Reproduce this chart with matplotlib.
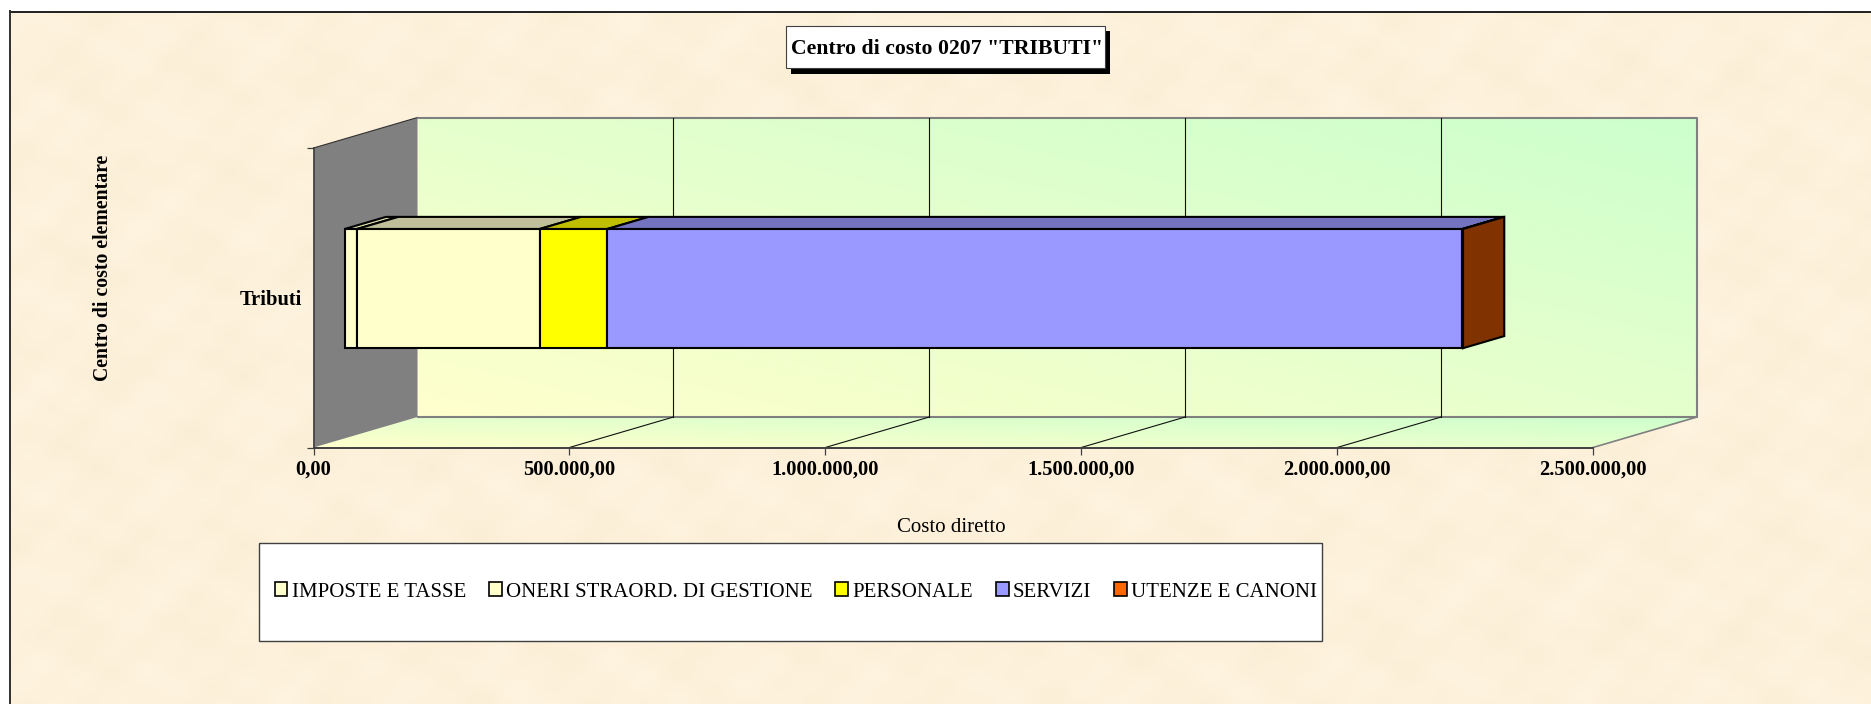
import numpy as np
import matplotlib
matplotlib.use("Agg")
import matplotlib.pyplot as plt
from matplotlib.patches import Polygon, Patch, Rectangle

plt.rcParams['font.family'] = ['Liberation Serif', 'DejaVu Serif']

# Data
category = "Tributi"
series_names = ["IMPOSTE E TASSE", "ONERI STRAORD. DI GESTIONE", "PERSONALE", "SERVIZI", "UTENZE E CANONI"]
series_values = [24000, 357000, 132000, 1671000, 1000]
xtick_values = [0, 500000, 1000000, 1500000, 2000000, 2500000]
xtick_labels = ["0,00", "500.000,00", "1.000.000,00", "1.500.000,00", "2.000.000,00", "2.500.000,00"]

# Colours
front_colors = ["#FFFFCC", "#FFFFCC", "#FFFF00", "#9999FF", "#FF6600"]
top_colors = ["#E0E0B0", "#BFBF99", "#BFBF00", "#7373BF", "#BF4D00"]
side_color = "#803300"

W, H = 1871, 704
fig = plt.figure(figsize=(W / 100, H / 100), dpi=100, facecolor="white")

# Background layer, in pixel coordinates
bg = fig.add_axes([0, 0, 1, 1], zorder=0)
yy, xx = np.mgrid[0:H, 0:W]
mottle = (np.sin(xx / 19.0 + 1.3 * np.sin(yy / 31.0)) + np.sin(yy / 15.0 + 1.1 * np.sin(xx / 23.0))
          + 0.7 * np.sin((xx + yy) / 9.0) + 0.6 * np.sin((xx - 2 * yy) / 13.0))
base = np.array([253, 241, 219]) / 255
paper = np.clip(base[None, None, :] + mottle[:, :, None] * np.array([0.0015, 0.003, 0.005]), 0, 1)
bg.imshow(paper, extent=[10, W, H, 11], aspect="auto", interpolation="bilinear")
bg.set_xlim(0, W)
bg.set_ylim(H, 0)
bg.axis("off")
bg.plot([10, W], [11.5, 11.5], color="#202020", lw=1.4)
bg.plot([10, 10], [11, H], color="#303030", lw=1.4)

# Title box with its shadow
bg.add_patch(Rectangle((791.5, 31), 319, 42.5, fc="black", ec="none"))
bg.add_patch(Rectangle((786, 25.5), 319, 42.5, fc="white", ec="#404040", lw=0.8))
bg.text(947.5, 48.5, 'Centro di costo 0207 "TRIBUTI"', fontsize=15.7, fontweight="bold", ha="center", va="center")

# Legend box
bg.add_patch(Rectangle((259, 543), 1063, 98, fc="white", ec="#404040", lw=1.0))

# Main axes sit on the front plane of the 3D box
ax = fig.add_axes([313.5 / W, 1 - 447.5 / H, (1593 - 313.5) / W, (447.5 - 148) / H], zorder=1)
ax.patch.set_visible(False)
xmax = xtick_values[-1]
depth_x = 104 / (1593 - 313.5) * xmax
depth_y = 30.5 / (447.5 - 148)

pale_yellow = np.array([255, 255, 204]) / 255
pale_green = np.array([204, 255, 204]) / 255


def blend(t):
    return pale_yellow[None, None, :] * (1 - t[:, :, None]) + pale_green[None, None, :] * t[:, :, None]


# Back wall gradient
u, v = np.meshgrid(np.linspace(0, 1, 200), np.linspace(1, 0, 100))
wall = ax.imshow(blend((u + v) / 2), extent=[depth_x, xmax + depth_x, depth_y, 1 + depth_y],
                 aspect="auto", zorder=1)
wall.set_clip_on(False)

# Floor gradient
floor_shape = Polygon([(0, 0), (depth_x, depth_y), (xmax + depth_x, depth_y), (xmax, 0)],
                      closed=True, fc="none", ec="none", clip_on=False, transform=ax.transData)
ax.add_patch(floor_shape)
fu, fw = np.meshgrid(np.linspace(0, 1, 200), np.linspace(1, 0, 30))
floor = ax.imshow(blend((fu + fw) / 2), extent=[0, xmax + depth_x, 0, depth_y], aspect="auto", zorder=1)
floor.set_clip_path(floor_shape)
floor.set_clip_box(fig.bbox)  # image would stop at the axes edge otherwise

# Grey left wall
ax.add_patch(Polygon([(0, 0), (depth_x, depth_y), (depth_x, 1 + depth_y), (0, 1)], closed=True,
                     fc="#808080", ec="none", clip_on=False, zorder=1.5))
ax.plot([0, depth_x], [1, 1 + depth_y], color="#303030", lw=0.8, clip_on=False, zorder=2)

# Grid lines on wall and floor
for val in xtick_values[1:-1]:
    ax.plot([val + depth_x] * 2, [depth_y, 1 + depth_y], color="#101010", lw=0.8, clip_on=False, zorder=2.2)
    ax.plot([val, val + depth_x], [0, depth_y], color="#101010", lw=0.8, clip_on=False, zorder=2.2)

# Wall outline
ax.plot([depth_x, xmax + depth_x, xmax + depth_x, depth_x], [1 + depth_y, 1 + depth_y, depth_y, depth_y],
        color="#808080", lw=1.5, clip_on=False, zorder=2)
ax.plot([xmax, xmax + depth_x], [0, depth_y], color="#808080", lw=1.2, clip_on=False, zorder=2)

# Stacked bar with its depth
bar_depth = 0.397
bar_pos = 0.30
bar_h = 0.398
bar_y = 0.5 + depth_y * bar_pos
off_x = depth_x * bar_pos
dx = depth_x * bar_depth
dy = depth_y * bar_depth
top_y = bar_y + bar_h / 2
bot_y = bar_y - bar_h / 2

left = off_x
for val, fc, tc in zip(series_values, front_colors, top_colors):
    ax.barh(bar_y, val, left=left, height=bar_h, color=fc, edgecolor="black", lw=1.5, zorder=4, clip_on=False)
    ax.add_patch(Polygon([(left, top_y), (left + val, top_y), (left + val + dx, top_y + dy), (left + dx, top_y + dy)],
                         closed=True, fc=tc, ec="black", lw=1.5, clip_on=False, zorder=3.5))
    left += val
ax.add_patch(Polygon([(left, bot_y), (left + dx, bot_y + dy), (left + dx, top_y + dy), (left, top_y)],
                     closed=True, fc=side_color, ec="black", lw=1.5, clip_on=False, zorder=3.5))

ax.set_xlim(0, xmax)
ax.set_ylim(0, 1)

# Axes furniture
for name in ["top", "right"]:
    ax.spines[name].set_visible(False)
ax.spines["bottom"].set_color("#404040")
ax.spines["bottom"].set_linewidth(1.4)
ax.spines["left"].set_color("#404040")
ax.spines["left"].set_linewidth(1.2)
ax.set_xticks(xtick_values)
ax.set_xticklabels(xtick_labels, fontsize=14.8, fontweight="bold")
ax.tick_params(axis="x", length=5, width=0.9, color="#404040", pad=3.5)
ax.set_yticks([0, 1])
ax.set_yticklabels(["", ""])
ax.set_yticks([0.5], minor=True)
ax.set_yticklabels([category], minor=True, fontsize=14.8, fontweight="bold")
ax.tick_params(axis="y", which="major", length=5, width=0.9, color="#404040")
ax.tick_params(axis="y", which="minor", length=0, pad=8.5)
ax.set_xlabel("Costo diretto", fontsize=15)
ax.xaxis.set_label_coords((951 - 313.5) / (1593 - 313.5), (447.5 - 518.5) / (447.5 - 148))
ax.set_ylabel("Centro di costo elementare", fontsize=14.2, fontweight="bold")
ax.yaxis.set_label_coords((113.5 - 313.5) / (1593 - 313.5), (447.5 - 268) / (447.5 - 148))

# Legend
handles = [Patch(fc=c, ec="black", lw=1.2) for c in front_colors]
bg.legend(handles, series_names, loc="center", bbox_to_anchor=(796, 592), bbox_transform=bg.transData,
          ncol=5, frameon=False, fontsize=15, handlelength=0.62, handleheight=0.62, handletextpad=0.2,
          columnspacing=1.1, borderpad=0)

fig.savefig("out.png", dpi=100)
